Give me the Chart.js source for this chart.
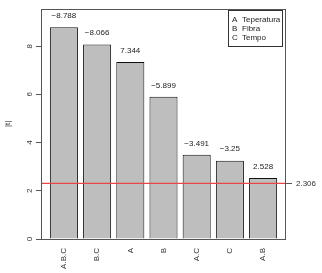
<!DOCTYPE html>
<html>
<head>
<meta charset="utf-8">
<script src="https://cdn.jsdelivr.net/npm/chart.js@4.4.0/dist/chart.umd.min.js"></script>
<style>
  html, body { margin: 0; padding: 0; background: #fff; }
  canvas { display: block; }
</style>
</head>
<body>
<canvas id="paretoChart" width="322" height="273"></canvas>
<script>
// efeitos (t)
const efeitos = ['A.B.C', 'B.C', 'A', 'B', 'A.C', 'C', 'A.B'];
const valoresT = [-8.788, -8.066, 7.344, -5.899, -3.491, -3.25, 2.528];
const rotulosT = ['\u22128.788', '\u22128.066', '7.344', '\u22125.899', '\u22123.491', '\u22123.25', '2.528'];
const yTicks = [0, 2, 4, 6, 8];
const limiteT = 2.306;
const legendaFatores = [['A', 'Teperatura'], ['B', 'Fibra'], ['C', 'Tempo']];

const fonte = '"Liberation Sans", Arial, Helvetica, sans-serif';

const barras = valoresT.map((v, i) => ({ x: i, y: Math.abs(v) }));
const linhaLimite = [{ x: -0.7, y: limiteT }, { x: efeitos.length - 0.3, y: limiteT }];

const moldura = {
    id: 'moldura',
    afterDraw(chart) {
        const ctx = chart.ctx;
        const a = chart.chartArea;
        ctx.save();
        // caixa do gráfico
        ctx.strokeStyle = '#555';
        ctx.lineWidth = 1;
        ctx.strokeRect(Math.round(a.left) + 0.5, Math.round(a.top) + 0.5,
            Math.round(a.right - a.left) - 1, Math.round(a.bottom - a.top));

        // rótulos do eixo y (rotacionados, como no R)
        const ys = chart.scales.y;
        ctx.fillStyle = '#333';
        ctx.font = '8px ' + fonte;
        ctx.textAlign = 'center';
        ctx.textBaseline = 'middle';
        yTicks.forEach(t => {
            const py = ys.getPixelForValue(t);
            ctx.save();
            ctx.translate(29.5, py);
            ctx.rotate(-Math.PI / 2);
            ctx.fillText(String(t), 0, 0);
            ctx.restore();
        });

        // valores acima das barras
        const meta = chart.getDatasetMeta(1);
        ctx.fillStyle = '#222';
        meta.data.forEach((bar, i) => {
            ctx.fillText(rotulosT[i], bar.x, bar.y - 11.5);
        });

        // legenda
        ctx.strokeStyle = '#333';
        ctx.strokeRect(228.5, 10.5, 54, 36);
        ctx.textAlign = 'left';
        ctx.fillStyle = '#222';
        legendaFatores.forEach((f, i) => {
            ctx.fillText(f[0], 232, 19.5 + i * 9);
            ctx.fillText(f[1], 242, 19.5 + i * 9);
        });
        ctx.restore();
    }
};

const ctx = document.getElementById('paretoChart').getContext('2d');
new Chart(ctx, {
    data: {
        datasets: [
            {
                type: 'line',
                data: linhaLimite,
                borderColor: 'rgb(235, 70, 70)',
                backgroundColor: 'rgb(235, 70, 70)',
                borderWidth: 1.4,
                pointRadius: 0,
                fill: false,
                order: 0,
                yAxisID: 'y'
            },
            {
                type: 'bar',
                data: barras,
                backgroundColor: '#bebebe',
                borderColor: '#111',
                borderWidth: 1,
                barPercentage: 0.845,
                categoryPercentage: 1,
                order: 1,
                yAxisID: 'y'
            }
        ]
    },
    options: {
        responsive: false,
        animation: false,
        events: [],
        layout: { padding: { top: 5, left: 0, right: 0, bottom: 0 } },
        plugins: {
            legend: { display: false },
            tooltip: { enabled: false }
        },
        scales: {
            x: {
                type: 'linear',
                offset: false,
                min: -0.69,
                max: 6.69,
                afterBuildTicks: s => { s.ticks = efeitos.map((e, i) => ({ value: i })); },
                afterFit: s => { s.height = 34; },
                grid: { display: false, drawTicks: false },
                border: { display: false },
                ticks: {
                    minRotation: 90,
                    maxRotation: 90,
                    padding: 9,
                    autoSkip: false,
                    color: '#333',
                    font: { family: fonte, size: 8 },
                    callback: v => efeitos[v]
                }
            },
            y: {
                min: 0,
                max: 9.55,
                position: 'left',
                afterBuildTicks: s => { s.ticks = yTicks.map(v => ({ value: v })); },
                afterFit: s => { s.width = 41; },
                grid: { drawOnChartArea: false, drawTicks: true, tickLength: 5, color: '#555' },
                border: { display: false },
                ticks: { display: false },
                title: {
                    display: true,
                    text: '|t|',
                    color: '#333',
                    font: { family: fonte, size: 8 },
                    padding: { top: 3, bottom: 0 }
                }
            },
            y2: {
                min: 0,
                max: 9.55,
                position: 'right',
                afterBuildTicks: s => { s.ticks = [{ value: limiteT }]; },
                afterFit: s => { s.width = 36; },
                grid: { drawOnChartArea: false, drawTicks: true, tickLength: 6, color: '#555' },
                border: { display: false },
                ticks: {
                    padding: 4,
                    color: '#333',
                    font: { family: fonte, size: 8 },
                    callback: v => limiteT.toFixed(3)
                }
            }
        }
    },
    plugins: [moldura]
});
</script>
</body>
</html>
